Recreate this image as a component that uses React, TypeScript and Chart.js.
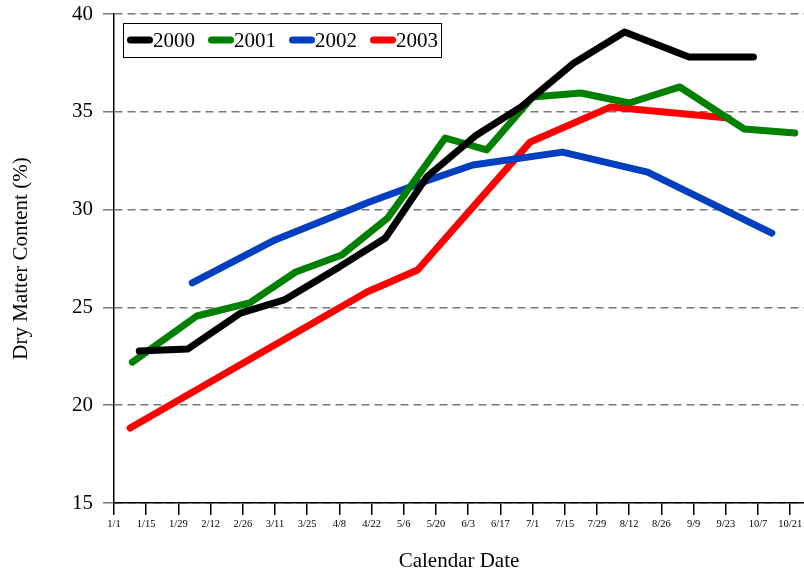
import React, { useEffect, useRef } from "react";
import { Chart, registerables } from "chart.js";

Chart.register(...registerables);

const tickDays = [0, 14, 28, 42, 56, 70, 84, 98, 112, 126, 140, 154, 168, 182, 196, 210, 224, 238, 252, 266, 280, 294];
const tickLabels = ["1/1", "1/15", "1/29", "2/12", "2/26", "3/11", "3/25", "4/8", "4/22", "5/6", "5/20", "6/3", "6/17", "7/1", "7/15", "7/29", "8/12", "8/26", "9/9", "9/23", "10/7", "10/21"];

const days2000 = [11, 32, 55, 74, 98, 118, 136, 157, 177, 200, 222, 250, 278];
const vals2000 = [22.77, 22.87, 24.71, 25.38, 27.07, 28.55, 31.67, 33.76, 35.25, 37.5, 39.08, 37.8, 37.8];

const days2001 = [8, 36, 59, 79, 99, 119, 144, 162, 182, 203, 224, 246, 274, 296];
const vals2001 = [22.2, 24.56, 25.23, 26.81, 27.68, 29.57, 33.66, 33.05, 35.76, 35.96, 35.45, 36.27, 34.12, 33.92];

const days2002 = [34, 70, 111, 137, 156, 195, 232, 286];
const vals2002 = [26.25, 28.45, 30.39, 31.51, 32.28, 32.94, 31.92, 28.8];

const days2003 = [7, 110, 132, 181, 216, 267];
const vals2003 = [18.83, 25.79, 26.91, 33.46, 35.25, 34.68];

const seriesLabels = ["2000", "2001", "2002", "2003"];
const seriesColors = ["#000000", "#008000", "#0040c0", "#ff0000"];

const FONT = "'Liberation Serif', 'Times New Roman', serif";

function toPoints(days: number[], vals: number[]) {
  return days.map((d, i) => ({ x: d, y: vals[i] }));
}

const legendPlugin = {
  id: "boxLegend",
  afterDatasetsDraw(chart: any) {
    const ctx = chart.ctx;
    const area = chart.chartArea;
    const left = area.left + 9;
    const top = area.top + 9;
    const h = 34;
    const cy = top + h / 2;
    ctx.save();
    ctx.font = `21px ${FONT}`;
    ctx.textBaseline = "middle";
    ctx.textAlign = "left";
    let x = left + 4;
    const items = chart.data.datasets.map((ds: any) => ({ label: ds.label, color: ds.borderColor }));
    const positions: number[] = [];
    items.forEach((it: any) => {
      positions.push(x);
      const w = ctx.measureText(it.label).width;
      x += 27 + w + 12;
    });
    const right = x - 12 + 2;
    ctx.fillStyle = "#fff";
    ctx.fillRect(left, top, right - left, h);
    ctx.strokeStyle = "#000";
    ctx.lineWidth = 1;
    ctx.strokeRect(left + 0.5, top + 0.5, right - left, h);
    items.forEach((it: any, i: number) => {
      const px = positions[i];
      ctx.beginPath();
      ctx.lineCap = "round";
      ctx.lineWidth = 7;
      ctx.strokeStyle = it.color;
      ctx.moveTo(px + 3.5, cy);
      ctx.lineTo(px + 22.5, cy);
      ctx.stroke();
      ctx.fillStyle = "#000";
      ctx.fillText(it.label, px + 26, cy + 1);
    });
    ctx.restore();
  },
};

export default function App() {
  const ref = useRef<HTMLCanvasElement | null>(null);

  useEffect(() => {
    if (!ref.current) return;
    Chart.defaults.color = "#000";
    const allDays = [days2000, days2001, days2002, days2003];
    const allVals = [vals2000, vals2001, vals2002, vals2003];
    const chart = new Chart(ref.current, {
      type: "line",
      data: {
        datasets: seriesLabels.map((label, i) => ({
          label,
          data: toPoints(allDays[i], allVals[i]),
          borderColor: seriesColors[i],
          backgroundColor: seriesColors[i],
          borderWidth: 7,
          borderCapStyle: "round",
          borderJoinStyle: "round",
          pointRadius: 0,
          tension: 0,
          fill: false,
        })),
      },
      options: {
        responsive: false,
        animation: false,
        layout: { padding: { top: 14, right: 0, left: 0, bottom: 0 } },
        plugins: {
          legend: { display: false },
          tooltip: { enabled: false },
        },
        scales: {
          x: {
            type: "linear",
            min: 0,
            max: 300,
            afterBuildTicks: (s: any) => {
              s.ticks = tickDays.map((v) => ({ value: v }));
            },
            afterFit: (s: any) => {
              s.height = 72;
              s.paddingLeft = 0;
              s.paddingRight = 0;
            },
            ticks: {
              autoSkip: false,
              maxRotation: 0,
              padding: 3,
              color: "#000",
              font: { family: FONT, size: 10.5 },
              callback: (v: any) => {
                const idx = tickDays.indexOf(Number(v));
                return idx >= 0 ? tickLabels[idx] : "";
              },
            },
            grid: {
              drawOnChartArea: false,
              drawTicks: true,
              tickLength: 12,
              tickColor: "#000",
              tickWidth: 1.5,
              lineWidth: 1.5,
            },
            border: { display: true, color: "#000", width: 1.5 },
            title: {
              display: true,
              text: "Calendar Date",
              color: "#000",
              font: { family: FONT, size: 21 },
              padding: { top: 0, bottom: 1 },
            },
          },
          y: {
            min: 15,
            max: 40,
            afterFit: (s: any) => {
              s.width = 114;
              s.paddingTop = 0;
              s.paddingBottom = 0;
            },
            ticks: {
              stepSize: 5,
              padding: 10,
              color: "#000",
              font: { family: FONT, size: 21 },
            },
            grid: {
              color: "#777",
              lineWidth: 1.5,
              tickLength: 11,
              tickColor: "#777",
              tickWidth: 1.5,
              tickBorderDash: [],
            },
            border: { display: true, color: "#000", width: 1.5, dash: [8, 5] },
            title: {
              display: true,
              text: "Dry Matter Content (%)",
              color: "#000",
              font: { family: FONT, size: 21 },
              padding: { top: 9, bottom: 0 },
            },
          },
        },
      },
      plugins: [legendPlugin],
    } as any);
    return () => chart.destroy();
  }, []);

  return (
    <div style={{ position: "absolute", left: 0, top: 0, width: 804, height: 575, background: "#fff" }}>
      <canvas ref={ref} width={804} height={575} style={{ width: 804, height: 575 }} />
    </div>
  );
}
